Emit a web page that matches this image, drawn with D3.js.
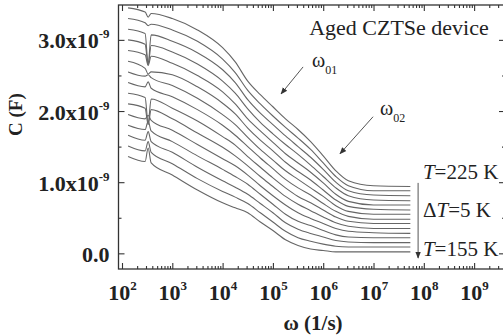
<!DOCTYPE html>
<html>
<head>
<meta charset="utf-8">
<script src="https://cdn.jsdelivr.net/npm/d3@7"></script>
<style>
  body { margin: 0; background: #fff; }
  svg { display: block; font-family: "Liberation Serif", "Times New Roman", serif; }
</style>
</head>
<body>
<svg id="chart"></svg>
<script>
const omega = [132, 288, 331, 380, 1e3, 3.16e3, 1e4, 1.78e4, 3.16e4, 5.62e4, 1e5, 1.78e5, 3.16e5, 5.62e5, 1e6, 1.78e6, 3.16e6, 1e7, 5.4e7];

// capacitance, in units of 1e-9 F, one trace per temperature
const c155 = [1.36, 1.29, 1.48, 1.27, 1.10, 0.89, 0.71, 0.64, 0.57, 0.44, 0.32, 0.19, 0.11, 0.06, 0.04, 0.02, 0.02, 0.02, 0.02];
const c160 = [1.51, 1.44, 1.57, 1.42, 1.26, 1.05, 0.87, 0.79, 0.70, 0.57, 0.44, 0.31, 0.22, 0.17, 0.13, 0.10, 0.09, 0.09, 0.09];
const c165 = [1.66, 1.59, 1.71, 1.57, 1.42, 1.21, 1.02, 0.93, 0.83, 0.70, 0.57, 0.43, 0.34, 0.28, 0.23, 0.18, 0.16, 0.15, 0.15];
const c170 = [1.80, 1.74, 1.86, 1.72, 1.57, 1.37, 1.18, 1.08, 0.97, 0.83, 0.69, 0.55, 0.45, 0.39, 0.32, 0.26, 0.23, 0.22, 0.22];
const c175 = [1.95, 1.89, 1.94, 1.87, 1.73, 1.53, 1.33, 1.23, 1.10, 0.95, 0.81, 0.68, 0.57, 0.49, 0.42, 0.35, 0.31, 0.29, 0.28];
const c180 = [2.10, 2.04, 1.81, 2.02, 1.89, 1.69, 1.49, 1.37, 1.23, 1.08, 0.94, 0.80, 0.69, 0.60, 0.51, 0.43, 0.38, 0.35, 0.35];
const c185 = [2.25, 2.19, 1.83, 2.17, 2.04, 1.86, 1.64, 1.52, 1.36, 1.21, 1.06, 0.92, 0.80, 0.71, 0.61, 0.51, 0.45, 0.42, 0.42];
const c190 = [2.40, 2.34, 2.41, 2.32, 2.20, 2.02, 1.80, 1.66, 1.50, 1.34, 1.19, 1.04, 0.92, 0.82, 0.70, 0.59, 0.52, 0.48, 0.48];
const c195 = [2.55, 2.49, 2.51, 2.47, 2.36, 2.18, 1.95, 1.81, 1.63, 1.46, 1.31, 1.16, 1.04, 0.92, 0.80, 0.67, 0.59, 0.55, 0.55];
const c200 = [2.70, 2.60, 2.52, 2.55, 2.51, 2.34, 2.11, 1.96, 1.76, 1.59, 1.44, 1.28, 1.15, 1.03, 0.89, 0.75, 0.66, 0.62, 0.61];
const c205 = [2.85, 2.79, 2.64, 2.77, 2.67, 2.50, 2.27, 2.10, 1.89, 1.72, 1.56, 1.40, 1.27, 1.14, 0.99, 0.83, 0.73, 0.68, 0.68];
const c210 = [3.00, 2.94, 2.65, 2.92, 2.83, 2.66, 2.42, 2.25, 2.03, 1.84, 1.68, 1.53, 1.39, 1.24, 1.08, 0.92, 0.81, 0.75, 0.74];
const c215 = [3.15, 3.09, 2.66, 3.07, 2.98, 2.82, 2.58, 2.40, 2.16, 1.97, 1.81, 1.65, 1.50, 1.35, 1.18, 1.00, 0.88, 0.82, 0.81];
const c220 = [3.30, 3.24, 3.20, 3.22, 3.14, 2.98, 2.73, 2.54, 2.29, 2.10, 1.93, 1.77, 1.62, 1.46, 1.27, 1.08, 0.95, 0.88, 0.88];
const c225 = [3.45, 3.39, 3.32, 3.37, 3.30, 3.14, 2.89, 2.69, 2.42, 2.23, 2.06, 1.89, 1.74, 1.57, 1.37, 1.16, 1.02, 0.95, 0.94];

const temps = [155, 160, 165, 170, 175, 180, 185, 190, 195, 200, 205, 210, 215, 220, 225];
const traces = [c155, c160, c165, c170, c175, c180, c185, c190, c195, c200, c205, c210, c215, c220, c225];

const yMajor = [0, 1, 2, 3];
const yMinor = [0.5, 1.5, 2.5];
const xExponents = [2, 3, 4, 5, 6, 7, 8, 9];

const width = 503, height = 336;
// frame: right edge sits just past the window, like in the source figure
const frame = {left: 118.5, right: 505, top: 5, bottom: 269};
const serif = '"Liberation Serif", "Times New Roman", serif';

const svg = d3.select('#chart')
    .attr('width', width)
    .attr('height', height);

const x = d3.scaleLog()
    .domain([85.2, 4.11e9])
    .range([frame.left, frame.right]);
const y = d3.scaleLinear()
    .domain([-0.22, 3.49])
    .range([frame.bottom, frame.top]);

const xMajorVals = xExponents.map(e => Math.pow(10, e));
let xMinorVals = [];
for (let e = 2; e <= 9; e++) {
    for (let m = 2; m <= 9; m++) {
        const v = m * Math.pow(10, e);
        if (v < x.domain()[1]) xMinorVals.push(v);
    }
}

const axisColor = '#333';

// traces
const line = d3.line()
    .x(d => x(d[0]))
    .y(d => y(d[1]))
    .curve(d3.curveMonotoneX);

svg.append('g')
    .selectAll('path')
    .data(traces)
    .join('path')
    .attr('d', t => line(t.map((c, i) => [omega[i], c])))
    .attr('fill', 'none')
    .attr('stroke', '#666')
    .attr('stroke-width', 1.1);

// axes, all ticks pointing inward
function styleAxis(g) {
    g.attr('font-family', serif).attr('font-size', null);
    g.select('.domain').remove();
    g.selectAll('.tick line').attr('stroke', axisColor).attr('stroke-width', 1.1);
}

const bottomMinor = svg.append('g')
    .attr('transform', `translate(0,${frame.bottom})`)
    .call(d3.axisBottom(x).tickValues(xMinorVals).tickSize(-3).tickFormat(''));
styleAxis(bottomMinor);
const topMinor = svg.append('g')
    .attr('transform', `translate(0,${frame.top})`)
    .call(d3.axisTop(x).tickValues(xMinorVals).tickSize(-3).tickFormat(''));
styleAxis(topMinor);
const topMajor = svg.append('g')
    .attr('transform', `translate(0,${frame.top})`)
    .call(d3.axisTop(x).tickValues(xMajorVals).tickSize(-6).tickFormat(''));
styleAxis(topMajor);

const bottomAxis = svg.append('g')
    .attr('transform', `translate(0,${frame.bottom})`)
    .call(d3.axisBottom(x).tickValues(xMajorVals).tickSize(-6).tickFormat(''));
styleAxis(bottomAxis);
bottomAxis.selectAll('.tick text').remove();
bottomAxis.selectAll('.tick')
    .append('text')
    .attr('y', 31)
    .attr('text-anchor', 'middle')
    .attr('fill', '#222')
    .attr('font-weight', 'bold')
    .attr('font-size', 22)
    .each(function(d) {
        const t = d3.select(this);
        t.append('tspan').text('10');
        t.append('tspan')
            .attr('font-size', 13)
            .attr('dy', -10)
            .text(Math.round(Math.log10(d)));
    });

const leftMinor = svg.append('g')
    .attr('transform', `translate(${frame.left},0)`)
    .call(d3.axisLeft(y).tickValues(yMinor).tickSize(-3).tickFormat(''));
styleAxis(leftMinor);
const rightMinor = svg.append('g')
    .attr('transform', `translate(${frame.right},0)`)
    .call(d3.axisRight(y).tickValues(yMinor).tickSize(-3).tickFormat(''));
styleAxis(rightMinor);
const rightMajor = svg.append('g')
    .attr('transform', `translate(${frame.right},0)`)
    .call(d3.axisRight(y).tickValues(yMajor).tickSize(-6).tickFormat(''));
styleAxis(rightMajor);

const leftAxis = svg.append('g')
    .attr('transform', `translate(${frame.left},0)`)
    .call(d3.axisLeft(y).tickValues(yMajor).tickSize(-6).tickFormat(''));
styleAxis(leftAxis);
leftAxis.selectAll('.tick text').remove();
leftAxis.selectAll('.tick')
    .append('text')
    .attr('x', -9)
    .attr('y', 8)
    .attr('text-anchor', 'end')
    .attr('fill', '#222')
    .attr('font-weight', 'bold')
    .attr('font-size', 22)
    .each(function(d) {
        const t = d3.select(this);
        if (d === 0) {
            t.text('0.0');
            return;
        }
        t.append('tspan').text(d.toFixed(1) + 'x10');
        t.append('tspan')
            .attr('font-size', 13)
            .attr('dy', -10)
            .text('-9');
    });

// frame
svg.append('rect')
    .attr('x', frame.left)
    .attr('y', frame.top)
    .attr('width', frame.right - frame.left)
    .attr('height', frame.bottom - frame.top)
    .attr('fill', 'none')
    .attr('stroke', axisColor)
    .attr('stroke-width', 1.3);

// axis titles
svg.append('text')
    .attr('x', (x(1e2) + x(1e9)) / 2 + 15)
    .attr('y', 330)
    .attr('text-anchor', 'middle')
    .attr('font-weight', 'bold')
    .attr('font-size', 21)
    .attr('fill', '#222')
    .text('\u03c9 (1/s)');

svg.append('text')
    .attr('transform', `translate(22,${y(1.95)}) rotate(-90)`)
    .attr('text-anchor', 'middle')
    .attr('font-weight', 'bold')
    .attr('font-size', 19)
    .attr('fill', '#222')
    .text('C (F)');

// annotations
const defs = svg.append('defs');
defs.append('marker')
    .attr('id', 'head')
    .attr('viewBox', '0 0 10 10')
    .attr('refX', 9)
    .attr('refY', 5)
    .attr('markerWidth', 7)
    .attr('markerHeight', 7)
    .attr('markerUnits', 'userSpaceOnUse')
    .attr('orient', 'auto')
    .append('path')
    .attr('d', 'M0,1L10,5L0,9Z')
    .attr('fill', '#333');

const arrowW01 = [[3.98e5, 2.62], [1.45e5, 2.24]];
const arrowW02 = [[9.8e6, 1.92], [2.16e6, 1.40]];
const arrowT = [[7.7e7, 0.99], [7.7e7, -0.065]];

[arrowW01, arrowW02, arrowT].forEach(a => {
    svg.append('line')
        .attr('x1', x(a[0][0])).attr('y1', y(a[0][1]))
        .attr('x2', x(a[1][0])).attr('y2', y(a[1][1]))
        .attr('stroke', '#555')
        .attr('stroke-width', 1)
        .attr('marker-end', 'url(#head)');
});

function omegaLabel(pos, sub) {
    const t = svg.append('text')
        .attr('x', x(pos[0]))
        .attr('y', y(pos[1]))
        .attr('font-size', 20)
        .attr('fill', '#222');
    t.append('tspan').text('\u03c9');
    t.append('tspan').attr('font-size', 12).attr('dy', 7).text(sub);
}
omegaLabel([6.0e5, 2.62], '01');
omegaLabel([1.35e7, 1.95], '02');

svg.append('text')
    .attr('x', x(5.25e5))
    .attr('y', y(3.07))
    .attr('font-size', 22)
    .attr('fill', '#222')
    .text('Aged CZTSe device');

function tempLabel(pos, parts) {
    const t = svg.append('text')
        .attr('x', x(pos[0]))
        .attr('y', y(pos[1]))
        .attr('font-size', 21)
        .attr('fill', '#222');
    parts.forEach(p => {
        t.append('tspan')
            .attr('font-style', p.italic ? 'italic' : 'normal')
            .text(p.s);
    });
}
tempLabel([9.6e7, 1.047], [{s: 'T', italic: true}, {s: '=225 K'}]);
tempLabel([9.6e7, 0.513], [{s: '\u0394'}, {s: 'T', italic: true}, {s: '=5 K'}]);
tempLabel([9.6e7, -0.035], [{s: 'T', italic: true}, {s: '=155 K'}]);
</script>
</body>
</html>
